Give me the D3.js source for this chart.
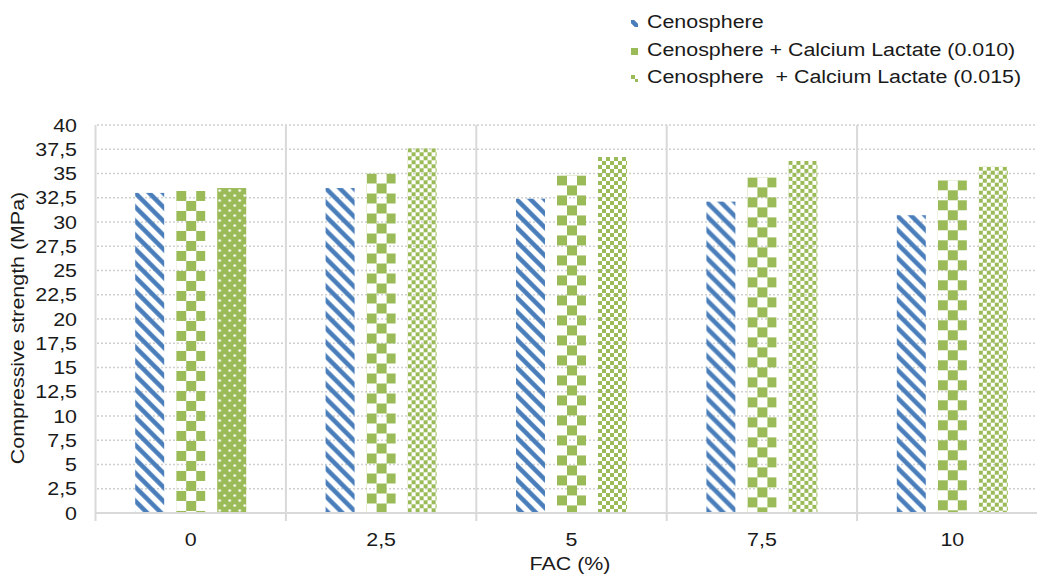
<!DOCTYPE html>
<html><head><meta charset="utf-8">
<script src="https://cdn.jsdelivr.net/npm/d3@7"></script>
<style>body{margin:0;background:#fff}svg{display:block;font-family:"Liberation Sans",Arial,sans-serif}</style>
</head><body><svg id="c" width="1037" height="581"></svg>
<script>
const categories = ["0","2,5","5","7,5","10"];
const seriesNames = ["Cenosphere","Cenosphere + Calcium Lactate (0.010)","Cenosphere  + Calcium Lactate (0.015)"];
const cenosphere = [33.0, 33.5, 32.4, 32.1, 30.7];
const lactate010 = [33.2, 35.0, 34.8, 34.6, 34.3];
const lactate015 = [33.5, 37.6, 36.7, 36.3, 35.7];
const yTicks = [0,2.5,5,7.5,10,12.5,15,17.5,20,22.5,25,27.5,30,32.5,35,37.5,40];
const series = [cenosphere, lactate010, lactate015];
const fillIds = [["stripe","stripe","stripe","stripe","stripe"],["check","check","check","check","check"],["dots","smallcheck","smallcheck","smallcheck","smallcheck"]];
const legendFills = ["stripe","check","smallcheck"];

const blue = "#4a7ebb", green = "#9bbb59", ink = "#1a1a1a", SX = 1.19;
const svg = d3.select("#c");
const defs = svg.append("defs");
let p = defs.append("pattern").attr("id","stripe").attr("patternUnits","userSpaceOnUse").attr("width",14).attr("height",14);
p.append("path").attr("d","M-3.5,-3.5L17.5,17.5M-3.5,10.5L3.5,17.5M10.5,-3.5L17.5,3.5").attr("stroke",blue).attr("stroke-width",4.5);
p = defs.append("pattern").attr("id","check").attr("patternUnits","userSpaceOnUse").attr("width",20).attr("height",20);
p.append("rect").attr("x",0).attr("y",0).attr("width",10).attr("height",10).attr("fill",green);
p.append("rect").attr("x",10).attr("y",10).attr("width",10).attr("height",10).attr("fill",green);
p = defs.append("pattern").attr("id","smallcheck").attr("patternUnits","userSpaceOnUse").attr("width",8).attr("height",8);
p.append("rect").attr("x",0).attr("y",0).attr("width",4).attr("height",4).attr("fill",green);
p.append("rect").attr("x",4).attr("y",4).attr("width",4).attr("height",4).attr("fill",green);
p = defs.append("pattern").attr("id","dots").attr("patternUnits","userSpaceOnUse").attr("width",10).attr("height",10);
p.append("rect").attr("width",10).attr("height",10).attr("fill",green);
p.append("circle").attr("cx",2.5).attr("cy",2.5).attr("r",1.3).attr("fill","#fff");
p.append("circle").attr("cx",7.5).attr("cy",7.5).attr("r",1.3).attr("fill","#fff");

const x0 = d3.scaleBand().domain(categories).range([95.5, 1047.5]);
const x1 = d3.scaleBand().domain([0,1,2]).range([0, x0.bandwidth()]).paddingInner(0.293).paddingOuter(0.968);
const y = d3.scaleLinear().domain([0,40]).range([513,125]);

svg.append("g").selectAll("line").data(yTicks.slice(1)).join("line")
  .attr("x1",97).attr("x2",1047).attr("y1",d=>y(d)).attr("y2",d=>y(d))
  .attr("stroke","#d0d0d0").attr("stroke-width",1.5).attr("stroke-dasharray","2,2");

categories.forEach((c,i)=>{
  series.forEach((s,j)=>{
    svg.append("g").attr("transform",`translate(${x0(c)+x1(j)},${y(s[i])})`)
      .append("rect").attr("x",0).attr("y",0).attr("width",x1.bandwidth()).attr("height",y(0)-y(s[i]))
      .attr("fill",`url(#${fillIds[j][i]})`);
  });
});

const sepX = categories.map(c=>x0(c)).concat([x0.range()[1]]);
svg.append("g").selectAll("line").data(sepX).join("line")
  .attr("x1",d=>d).attr("x2",d=>d).attr("y1",125).attr("y2",521)
  .attr("stroke","#d9d9d9").attr("stroke-width",2);
svg.append("line").attr("x1",95.5).attr("x2",1047.5).attr("y1",513).attr("y2",513).attr("stroke","#d9d9d9").attr("stroke-width",2);

function label(x,yy,txt,anchor,rot){
  svg.append("text").attr("transform",`translate(${x},${yy})${rot?" rotate(-90)":""} scale(${SX},1)`)
    .attr("text-anchor",anchor).attr("font-size",18).attr("fill",ink).style("white-space","pre").text(txt);
}
yTicks.forEach(d=>label(77, y(d)+6.5, String(d).replace(".",","), "end"));
categories.forEach(c=>label(x0(c)+x0.bandwidth()/2, 546, c, "middle"));
label(570, 570, "FAC (%)", "middle");
label(24, 328, "Compressive strength (MPa)", "middle", true);

const legendBase = [28, 56, 83];
seriesNames.forEach((n,i)=>{
  svg.append("g").attr("transform",`translate(631,${legendBase[i]-8})`)
    .append("rect").attr("width",7).attr("height",7).attr("fill",`url(#${legendFills[i]})`);
  label(647, legendBase[i], n, "start");
});
</script></body></html>
